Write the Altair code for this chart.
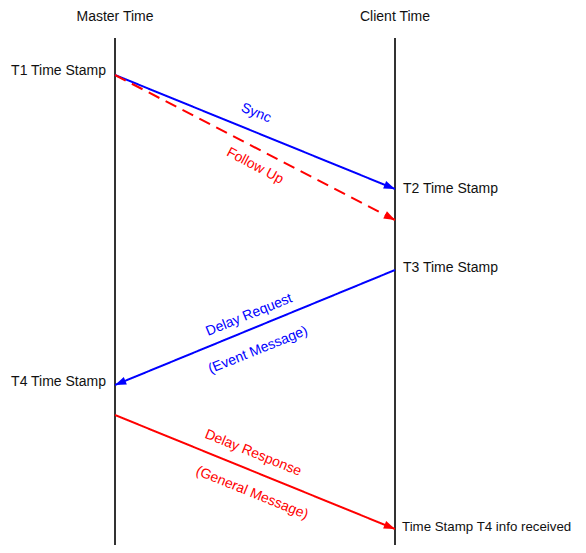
import math
import altair as alt
import pandas as pd

# Actors (lifelines)
actors = ["Master Time", "Client Time"]
actor_pos = [0, 1]
header_t = [17, 17]
lifeline_start = [38, 38]
lifeline_end = [553, 553]

# Messages
msg_from = [0, 0, 1, 0]
msg_to = [1, 1, 0, 1]
msg_send = [75, 75, 270, 415]
msg_recv = [189, 220, 385, 529]
msg_color = ["#0000ff", "#ff0000", "#0000ff", "#ff0000"]
msg_dash = ["solid", "dashed", "solid", "solid"]

# Message labels
label_text = ["Sync", "Follow Up", "Delay Request", "(Event Message)",
              "Delay Response", "(General Message)"]
label_x = [0.504, 0.50, 0.479, 0.511, 0.493, 0.489]
label_t = [113, 166, 315, 350, 453, 493]
label_angle = [22, 28, 338, 338, 22, 22]
label_color = ["#0000ff", "#ff0000", "#0000ff", "#0000ff", "#ff0000", "#ff0000"]

# Time stamp annotations
stamp_text = ["T1 Time Stamp", "T2 Time Stamp", "T3 Time Stamp",
              "T4 Time Stamp", "Time Stamp T4 info received"]
stamp_actor = [0, 1, 1, 0, 1]
stamp_t = [71, 189, 268, 382, 527]

W, H = 570, 537
UNIT = 280  # pixels between lifelines
X0 = 107    # master lifeline position inside the plot
x_scale = alt.Scale(domain=[-X0 / UNIT, (W - X0) / UNIT], nice=False, zero=False)
y_scale = alt.Scale(domain=[8, 8 + H], reverse=True, nice=False, zero=False)
FONT = "Liberation Sans, Arial, sans-serif"
FS = 14

actors_df = pd.DataFrame({"name": actors, "x": actor_pos, "ht": header_t,
                          "t0": lifeline_start, "t1": lifeline_end})
msgs = pd.DataFrame({"x": msg_from, "x2": msg_to, "t": msg_send, "t2": msg_recv,
                     "color": msg_color, "dash": msg_dash})
msgs["angle"] = [
    (math.degrees(math.atan2(b - a, (q - p) * UNIT)) + 360) % 360
    for p, q, a, b in zip(msg_from, msg_to, msg_send, msg_recv)
]
labels = pd.DataFrame({"text": label_text, "x": label_x, "t": label_t,
                       "angle": label_angle, "color": label_color})
stamps = pd.DataFrame({"text": stamp_text, "x": stamp_actor, "t": stamp_t})
stamps["long"] = stamps["text"].str.len() > 20

X = lambda f: alt.X(f, scale=x_scale, axis=None)
Y = lambda f: alt.Y(f, scale=y_scale, axis=None)

lifelines = alt.Chart(actors_df).mark_rule(color="#333333", strokeWidth=2).encode(
    x=X("x:Q"), y=Y("t0:Q"), y2="t1:Q")

headers = alt.Chart(actors_df).mark_text(
    font=FONT, fontSize=FS, color="#111111", align="center", baseline="middle"
).encode(x=X("x:Q"), y=Y("ht:Q"), text="name:N")

lines = alt.Chart(msgs).mark_rule(strokeWidth=2).encode(
    x=X("x:Q"), x2="x2:Q", y=Y("t:Q"), y2="t2:Q",
    color=alt.Color("color:N", scale=None),
    strokeDash=alt.StrokeDash("dash:N", scale=alt.Scale(
        domain=["solid", "dashed"], range=[[1, 0], [12, 7]]), legend=None),
)

heads = alt.Chart(msgs).mark_point(
    shape="M0,0L-1,-0.36L-1,0.36Z", filled=True, size=500, opacity=1, strokeWidth=0
).encode(
    x=X("x2:Q"), y=Y("t2:Q"),
    color=alt.Color("color:N", scale=None),
    angle=alt.Angle("angle:Q", scale=None),
)

msg_labels = alt.Chart(labels).mark_text(
    font=FONT, fontSize=FS, align="center", baseline="middle"
).encode(
    x=X("x:Q"), y=Y("t:Q"), text="text:N",
    color=alt.Color("color:N", scale=None),
    angle=alt.Angle("angle:Q", scale=None),
)

left_stamps = alt.Chart(stamps).transform_filter("datum.x == 0").mark_text(
    font=FONT, fontSize=FS, color="#111111", align="right", baseline="middle", dx=-9
).encode(x=X("x:Q"), y=Y("t:Q"), text="text:N")

right_stamps = alt.Chart(stamps).transform_filter(
    "datum.x == 1 && !datum.long").mark_text(
    font=FONT, fontSize=FS, color="#111111", align="left", baseline="middle", dx=8
).encode(x=X("x:Q"), y=Y("t:Q"), text="text:N")

right_long = alt.Chart(stamps).transform_filter(
    "datum.x == 1 && datum.long").mark_text(
    font=FONT, fontSize=13.3, color="#111111", align="left", baseline="middle", dx=7
).encode(x=X("x:Q"), y=Y("t:Q"), text="text:N")

chart = alt.layer(
    lifelines, headers, lines, heads, msg_labels, left_stamps, right_stamps, right_long
).properties(
    width=W, height=H, padding=0,
    autosize=alt.AutoSizeParams(type="none"),
).configure_view(stroke=None)

chart.save("out.html", embed_options={"renderer": "svg", "actions": False})
